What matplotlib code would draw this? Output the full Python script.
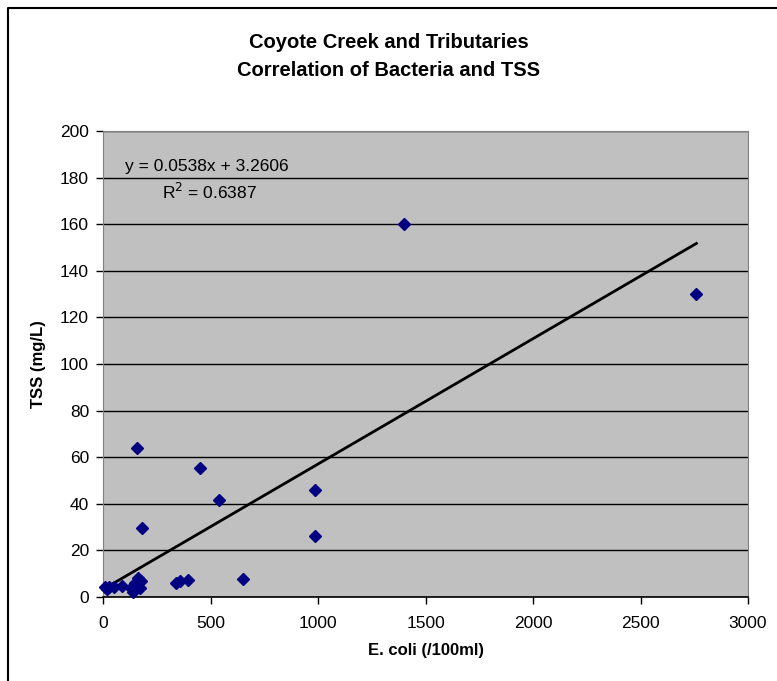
import numpy as np
import matplotlib
matplotlib.use("Agg")
import matplotlib.pyplot as plt
from matplotlib.lines import Line2D

plt.rcParams['font.family'] = ['Liberation Sans', 'DejaVu Sans']

# E. coli (/100ml) vs TSS (mg/L)
ecoli = [10, 20, 30, 50, 90, 130, 140, 150, 165, 170, 175,
         160, 180, 340, 360, 395, 450, 540, 650, 985, 985, 1400, 2760]
tss = [4.4, 3.4, 4.5, 4.2, 4.9, 4.0, 2.3, 6.0, 8.0, 3.7, 7.0,
       64, 29.6, 5.9, 6.9, 7.1, 55.5, 41.6, 7.7, 46, 26, 160, 130]

slope = 0.0538
intercept = 3.2606
r2 = 0.6387

x_ticks = [0, 500, 1000, 1500, 2000, 2500, 3000]
y_ticks = list(range(0, 201, 20))

W, H = 777, 681
fig = plt.figure(figsize=(W / 100, H / 100), dpi=100)
ax = fig.add_axes([103 / W, 1 - 597 / H, (748 - 103) / W, (597 - 131) / H])
ax.set_facecolor('#C0C0C0')

# trend line over the data range
xs = np.array([min(ecoli), max(ecoli)])
ax.plot(xs, slope * xs + intercept, color='black', lw=2, zorder=3)
ax.plot(ecoli, tss, linestyle='none', marker='D', markersize=6.2,
        color='#000080', zorder=4, clip_on=False)

ax.set_xlim(0, 3000)
ax.set_ylim(0, 200)
ax.set_xticks(x_ticks)
ax.set_yticks(y_ticks)
ax.yaxis.grid(True, color='black', lw=1)
ax.set_axisbelow(True)
ax.tick_params(direction='out', length=5, width=1, colors='black',
               labelsize=12.5, pad=5)
ax.tick_params(axis='x', pad=9)

for side in ['top', 'right', 'left']:
    ax.spines[side].set_color('#808080')
ax.spines['bottom'].set_color('black')
ax.spines['bottom'].set_linewidth(1.2)

ax.set_xlabel('E. coli (/100ml)', fontsize=12, fontweight='bold', labelpad=8)
ax.set_ylabel('TSS (mg/L)', fontsize=12, fontweight='bold', labelpad=10)

fig.text(0.5, 1 - 43 / H, 'Coyote Creek and Tributaries', ha='center', va='center',
         fontsize=14.5, fontweight='bold')
fig.text(0.5, 1 - 71 / H, 'Correlation of Bacteria and TSS', ha='center', va='center',
         fontsize=14.5, fontweight='bold')

ax.text(207 / W, 1 - 167 / H, 'y = 0.0538x + 3.2606', transform=fig.transFigure,
        ha='center', va='center', fontsize=12.5)
ax.text(209 / W, 1 - 192 / H, 'R$^2$ = 0.6387', transform=fig.transFigure,
        ha='center', va='center', fontsize=12.5)

# outer chart frame (runs off the right and bottom edge)
fig.add_artist(Line2D([7.5 / W, 7.5 / W, 1.0], [0.0, 1 - 7.5 / H, 1 - 7.5 / H],
                      transform=fig.transFigure, color='black', lw=1.5))

fig.savefig('out.png', dpi=100)
